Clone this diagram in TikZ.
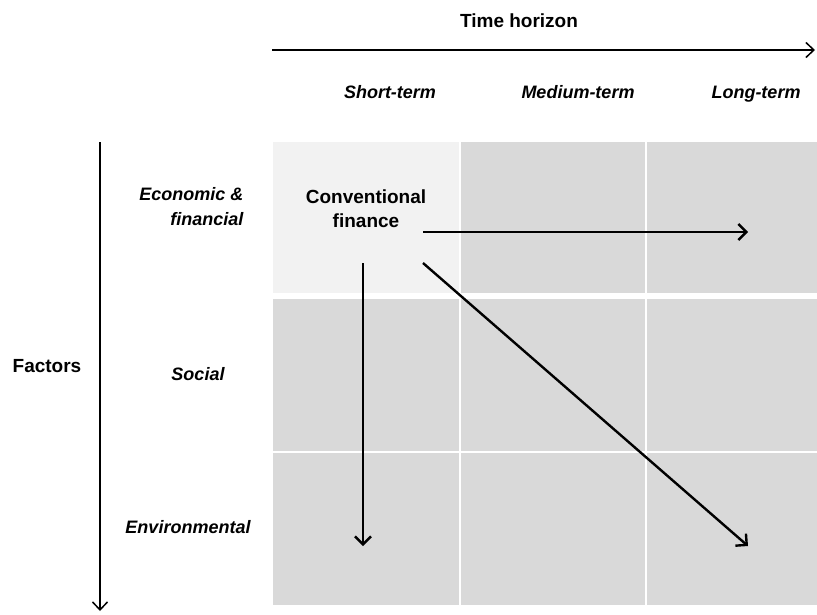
\documentclass[tikz,border=0pt]{standalone}
\usepackage{fontspec}
\setmainfont{Liberation Sans}
\usetikzlibrary{arrows.meta}
\definecolor{lightcell}{HTML}{F2F2F2}
\definecolor{darkcell}{HTML}{D9D9D9}
\tikzstyle{cell} = [rectangle, anchor=north west, inner sep=0pt, fill=darkcell]
\tikzstyle{firstcell} = [cell, fill=lightcell]
\tikzstyle{title} = [font=\fontsize{19}{24}\selectfont\bfseries]
\tikzstyle{heading} = [font=\fontsize{18}{25}\selectfont\bfseries\itshape]
\tikzstyle{axis} = [line width=1.5pt, -{Straight Barb[length=8pt,width=15pt]}]
\tikzstyle{arrow} = [line width=2.4pt, -{Straight Barb[length=8pt,width=16pt]}]

\begin{document}
\begin{tikzpicture}[x=1pt, y=-1pt]
	\useasboundingbox (0,0) rectangle (817,614);

	% cells
	\node (econshort) [firstcell, minimum width=186pt, minimum height=151pt] at (273,142) {};
	\node (econmedium) [cell, minimum width=184pt, minimum height=151pt] at (461,142) {};
	\node (econlong) [cell, minimum width=170pt, minimum height=151pt] at (647,142) {};
	\node (socshort) [cell, minimum width=186pt, minimum height=152pt] at (273,299) {};
	\node (socmedium) [cell, minimum width=184pt, minimum height=152pt] at (461,299) {};
	\node (soclong) [cell, minimum width=170pt, minimum height=152pt] at (647,299) {};
	\node (envshort) [cell, minimum width=186pt, minimum height=152pt] at (273,453) {};
	\node (envmedium) [cell, minimum width=184pt, minimum height=152pt] at (461,453) {};
	\node (envlong) [cell, minimum width=170pt, minimum height=152pt] at (647,453) {};

	% labels
	\node (time) [title] at (519,21) {Time horizon};
	\node (short) [heading, anchor=base] at (390,98) {Short-term};
	\node (medium) [heading, anchor=base] at (578,98) {Medium-term};
	\node (long) [heading, anchor=base] at (756,98) {Long-term};
	\node (factors) [title] at (47,366) {Factors};
	\node (econ) [heading, align=right, anchor=east] at (247,207) {Economic \&\\financial};
	\node (social) [heading] at (198,374) {Social};
	\node (environ) [heading] at (188,527) {Environmental};
	\node (conv) [title, align=center] at (366,209) {Conventional\\finance};

	\coordinate (timestart) at (272,50);
	\coordinate (timeend) at (815,50);
	\coordinate (factstart) at (100,142);
	\coordinate (factend) at (100,611);
	\coordinate (rightstart) at (423,232);
	\coordinate (rightend) at (748,232);
	\coordinate (downstart) at (363,263);
	\coordinate (downend) at (363,546);
	\coordinate (diagstart) at (423,263);
	\coordinate (diagend) at (748,546);

	\draw [axis] (timestart) -- (timeend);
	\draw [axis] (factstart) -- (factend);
	\draw [arrow] (rightstart) -- (rightend);
	\draw [arrow] (downstart) -- (downend);
	\draw [arrow] (diagstart) -- (diagend);

\end{tikzpicture}
\end{document}
